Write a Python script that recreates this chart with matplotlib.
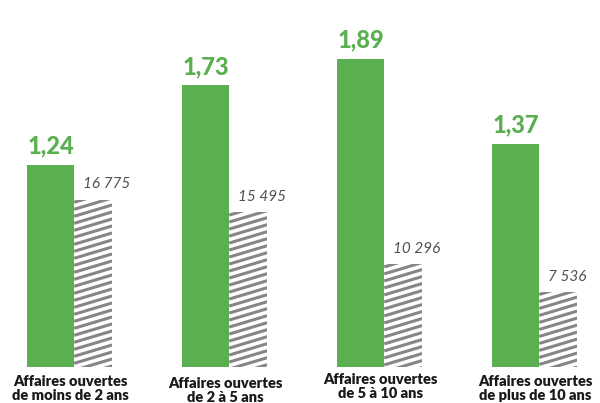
import matplotlib
matplotlib.use("Agg")
import matplotlib.pyplot as plt
import numpy as np
from matplotlib.collections import LineCollection
from matplotlib.transforms import IdentityTransform, blended_transform_factory

plt.rcParams['font.family'] = ['Lato', 'DejaVu Sans']

# data
categories = ["Affaires ouvertes\nde moins de 2 ans",
              "Affaires ouvertes\nde 2 à 5 ans",
              "Affaires ouvertes\nde 5 à 10 ans",
              "Affaires ouvertes\nde plus de 10 ans"]
ratio = [1.24, 1.73, 1.89, 1.37]
ratio_labels = ["1,24", "1,73", "1,89", "1,37"]
counts = [16775, 15495, 10296, 7536]
count_labels = ["16 775", "15 495", "10 296", "7 536"]

GREEN = '#5aaf50'
STRIPE = '#85858a'

fig = plt.figure(figsize=(6, 4.03), dpi=100)
ax = fig.add_axes([0, 36 / 403, 1, 367 / 403])
ax2 = ax.twinx()

x = np.arange(len(categories))
green_w = 0.303
grey_w = 0.245

ax.bar(x - 0.277, ratio, width=green_w, align='edge', color=GREEN, linewidth=0)
grey_bars = ax2.bar(x + 0.027, counts, width=grey_w, align='edge',
                    color='white', linewidth=0)

ax.set_xlim(-0.4516, 3.419)
ax.set_ylim(0, 2.25)
ax2.set_ylim(0, 36800)
for a in (ax, ax2):
    a.axis('off')

# shallow diagonal stripes, clipped to each grey bar
slope = 0.3
gap = 7.0
for patch in grey_bars:
    bb = patch.get_window_extent()
    segs = []
    y = bb.y1 + slope * bb.width
    while y > bb.y0 - slope * bb.width - gap:
        segs.append([(bb.x0, y), (bb.x1, y + slope * bb.width)])
        y -= gap
    lc = LineCollection(segs, colors=STRIPE, linewidths=2.2,
                        transform=IdentityTransform())
    lc.set_clip_path(patch)
    fig.add_artist(lc)

# value labels
for xi, v, lab in zip(x, ratio, ratio_labels):
    ax.annotate(lab, (xi - 0.277 + green_w / 2, v), xytext=(0, 5),
                textcoords='offset points', ha='center', va='bottom',
                fontsize=17, fontweight='black', color=GREEN)
for xi, v, lab in zip(x, counts, count_labels):
    ax2.annotate(lab, (xi + 0.027, v), xytext=(6, 6),
                 textcoords='offset points', ha='left', va='bottom',
                 fontsize=11, fontstyle='italic', color='#505050')

# category labels
label_top = [375, 377, 373, 375]
trans = blended_transform_factory(ax.transData, fig.transFigure)
for xi, cat, top in zip(x, categories, label_top):
    ax.text(xi, 1 - top / 403, cat, transform=trans, ha='center', va='top',
            fontsize=10.5, fontweight='heavy', color='#1a1a1a', linespacing=1.1)

fig.savefig('out.png', dpi=100)
